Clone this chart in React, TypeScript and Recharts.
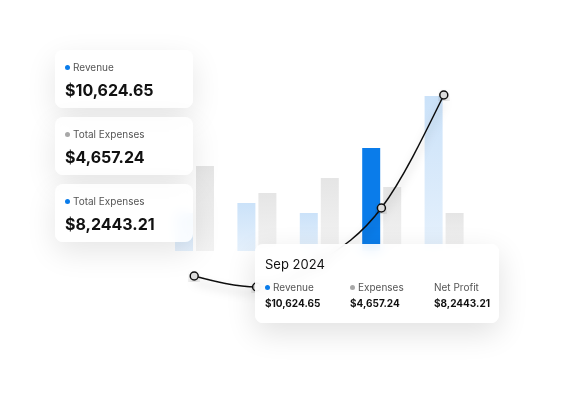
import { ComposedChart, Bar, Line, XAxis, YAxis, Cell } from "recharts";

const months = ["May 2024", "Jun 2024", "Jul 2024", "Sep 2024", "Oct 2024"];
const revenue = [38, 48, 38, 103, 155];
const expenses = [85, 58, 73, 64, 38];
const profit = [-25, -36, -11, 43, 156];
const activeIndex = 3;

const rows = months.map((m, i) => ({
  month: m,
  revenue: revenue[i],
  expenses: expenses[i],
  profit: profit[i],
}));

const summary = [
  { label: "Revenue", value: "$10,624.65", dot: "#0a7cea" },
  { label: "Total Expenses", value: "$4,657.24", dot: "#a8a8a8" },
  { label: "Total Expenses", value: "$8,2443.21", dot: "#0a7cea" },
];

const tipCols = [
  { label: "Revenue", value: "$10,624.65", dot: "#0a7cea" },
  { label: "Expenses", value: "$4,657.24", dot: "#a8a8a8" },
  { label: "Net Profit", value: "$8,2443.21", dot: null },
];

const font = "Inter, 'Noto Sans', sans-serif";

const Dot = ({ color }: { color: string }) => (
  <span
    style={{
      display: "inline-block",
      width: 5,
      height: 5,
      borderRadius: 3,
      background: color,
      marginRight: 3,
      verticalAlign: "middle",
      position: "relative",
      top: -1,
    }}
  />
);

export default function App() {
  return (
    <div
      style={{
        position: "absolute",
        left: 0,
        top: 0,
        width: 565,
        height: 394,
        background: "#fff",
        overflow: "hidden",
        fontFamily: font,
      }}
    >
      <ComposedChart
        width={565}
        height={394}
        data={rows}
        margin={{ top: 51, right: 90, bottom: 93, left: 163 }}
        barGap={3}
        barSize={18}
      >
        <defs>
          <linearGradient id="blueSoft" x1="0" y1="0" x2="0" y2="1">
            <stop offset="0%" stopColor="#cbe2f9" stopOpacity={1} />
            <stop offset="100%" stopColor="#cbe2f9" stopOpacity={0.5} />
          </linearGradient>
          <linearGradient id="blueSolid" x1="0" y1="0" x2="0" y2="1">
            <stop offset="0%" stopColor="#0a7cea" />
            <stop offset="100%" stopColor="#0a7cea" />
          </linearGradient>
          <linearGradient id="graySoft" x1="0" y1="0" x2="0" y2="1">
            <stop offset="0%" stopColor="#e5e5e5" stopOpacity={1} />
            <stop offset="100%" stopColor="#eaeaea" stopOpacity={0.6} />
          </linearGradient>
          <filter id="lineShadow" x="-20%" y="-20%" width="140%" height="140%">
            <feDropShadow dx="0" dy="6" stdDeviation="4" floodColor="#000" floodOpacity="0.25" />
          </filter>
        </defs>
        <XAxis dataKey="month" hide />
        <YAxis hide domain={[-50, 200]} />
        <Bar dataKey="revenue" isAnimationActive={false}>
          {rows.map((_, i) => (
            <Cell key={i} fill={i === activeIndex ? "url(#blueSolid)" : "url(#blueSoft)"} />
          ))}
        </Bar>
        <Bar dataKey="expenses" fill="url(#graySoft)" isAnimationActive={false} />
        <Line
          dataKey="profit"
          type="monotone"
          stroke="#111"
          strokeWidth={1.5}
          dot={{ r: 4, fill: "#dcdcdc", stroke: "#111", strokeWidth: 1.5 }}
          filter="url(#lineShadow)"
          isAnimationActive={false}
        />
      </ComposedChart>

      {summary.map((s, i) => (
        <div
          key={i}
          style={{
            position: "absolute",
            left: 55,
            top: 50 + i * 67,
            width: 138,
            height: 58,
            borderRadius: 8,
            background: "rgba(255,255,255,0.82)",
            backdropFilter: "blur(6px)",
            boxShadow: "0 10px 30px rgba(0,0,0,0.10)",
            boxSizing: "border-box",
            padding: "10px 0 0 10px",
          }}
        >
          <div style={{ fontSize: 10, color: "#555", lineHeight: "14px" }}>
            <Dot color={s.dot} />
            {s.label}
          </div>
          <div
            style={{
              fontSize: 16,
              fontWeight: 700,
              color: "#111",
              marginTop: 6,
              lineHeight: "20px",
            }}
          >
            {s.value}
          </div>
        </div>
      ))}

      <div
        style={{
          position: "absolute",
          left: 255,
          top: 244,
          width: 244,
          height: 79,
          borderRadius: 8,
          background: "rgba(255,255,255,0.9)",
          backdropFilter: "blur(6px)",
          boxShadow: "0 10px 30px rgba(0,0,0,0.12)",
          boxSizing: "border-box",
          padding: "12px 0 0 10px",
        }}
      >
        <div style={{ fontSize: 13, color: "#111", lineHeight: "16px" }}>{months[activeIndex]}</div>
        <div style={{ display: "flex", marginTop: 8 }}>
          {tipCols.map((c, i) => (
            <div key={i} style={{ width: i === 0 ? 85 : 84, flexShrink: 0 }}>
              <div style={{ fontSize: 10, color: "#555", lineHeight: "14px" }}>
                {c.dot && <Dot color={c.dot} />}
                {c.label}
              </div>
              <div
                style={{
                  fontSize: 10,
                  fontWeight: 700,
                  color: "#111",
                  lineHeight: "14px",
                  marginTop: 2,
                }}
              >
                {c.value}
              </div>
            </div>
          ))}
        </div>
      </div>
    </div>
  );
}
